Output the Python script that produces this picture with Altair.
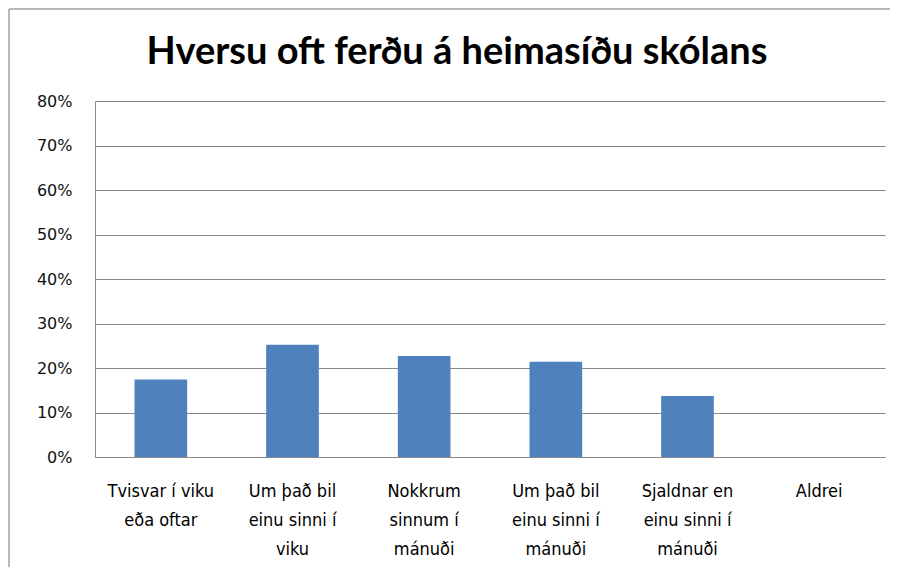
import altair as alt
import pandas as pd

# Category labels (| marks the line breaks used in the reference)
categories = [
    "Tvisvar í viku|eða oftar",
    "Um það bil|einu sinni í|viku",
    "Nokkrum|sinnum í|mánuði",
    "Um það bil|einu sinni í|mánuði",
    "Sjaldnar en|einu sinni í|mánuði",
    "Aldrei",
]
shares = [0.174, 0.252, 0.227, 0.214, 0.137, 0.0]
y_ticks = [0, 0.1, 0.2, 0.3, 0.4, 0.5, 0.6, 0.7, 0.8]
title_text = "Hversu oft ferðu á heimasíðu skólans"

df = pd.DataFrame({"cat": categories, "share": shares})

bars = alt.Chart(df).mark_bar(color="#4F81BD").encode(
    x=alt.X(
        "cat:N",
        sort=None,
        title=None,
        scale=alt.Scale(paddingInner=0.6, paddingOuter=0.3),
        axis=alt.Axis(
            labelExpr="split(datum.label, '|')",
            labelAngle=0,
            labelFont="DejaVu Sans Condensed, Liberation Sans Narrow, sans-serif",
            labelFontSize=18,
            labelLineHeight=29,
            labelColor="#000000",
            labelPadding=25,
            labelBaseline="top",
            ticks=False,
            grid=False,
            domainColor="#8a8a8a",
            domainWidth=1,
            labelLimit=200,
        ),
    ),
    y=alt.Y(
        "share:Q",
        title=None,
        scale=alt.Scale(domain=[0, 0.8], nice=False),
        axis=alt.Axis(
            values=y_ticks,
            format=".0%",
            labelFont="DejaVu Sans",
            labelFontSize=16,
            labelColor="#111111",
            labelPadding=23,
            ticks=False,
            domainColor="#8a8a8a",
            grid=True,
            gridColor="#8a8a8a",
            gridWidth=1,
        ),
    ),
)

# outer chart frame: top and left edges (right/bottom lie beyond the picture)
frame_top = alt.Chart(alt.Data(values=[{}])).mark_rule(
    color="#a0a0a0", strokeWidth=1.5
).encode(
    x=alt.value(-86),
    x2=alt.value(795),
    y=alt.value(-92),
)
frame_left = alt.Chart(alt.Data(values=[{}])).mark_rule(
    color="#a0a0a0", strokeWidth=1.5
).encode(
    x=alt.value(-86),
    y=alt.value(-92),
    y2=alt.value(480),
)

title = alt.Chart(alt.Data(values=[{"t": title_text}])).mark_text(
    font="Lato",
    fontSize=38,
    fontWeight="bold",
    color="#000000",
    align="center",
    baseline="alphabetic",
).encode(
    text="t:N",
    x=alt.value(362),
    y=alt.value(-37),
)

chart = (
    alt.layer(frame_top, frame_left, bars, title)
    .properties(
        width=790,
        height=356,
        padding={"left": 87, "top": 93, "right": 5, "bottom": 110},
        autosize=alt.AutoSizeParams(type="none"),
        view=alt.ViewBackground(stroke="transparent", strokeWidth=0),
    )
    .configure_view(stroke="transparent", strokeWidth=0)
    .configure(background="white")
)

chart.save("out.html", embed_options={"renderer": "svg", "actions": False})
